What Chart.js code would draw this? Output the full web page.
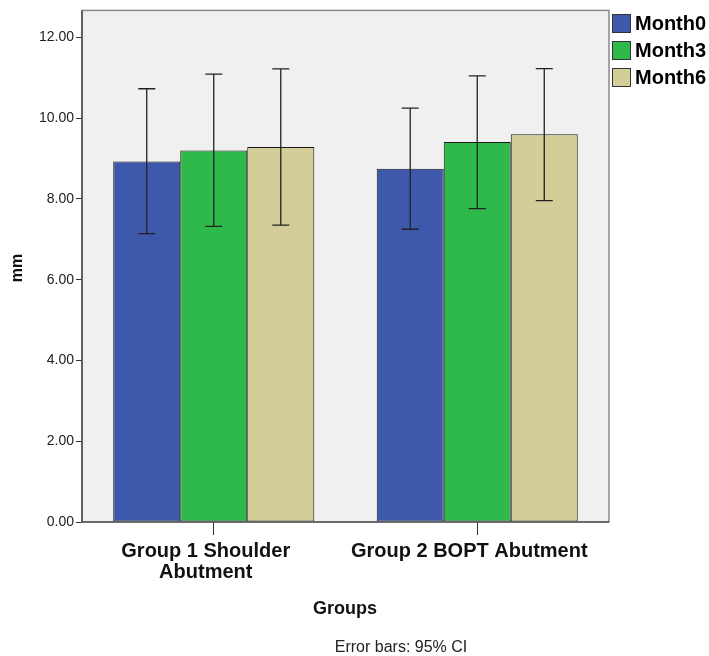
<!DOCTYPE html>
<html>
<head>
<meta charset="utf-8">
<script src="https://cdn.jsdelivr.net/npm/chart.js@4/dist/chart.umd.min.js"></script>
<style>
  html, body { margin: 0; padding: 0; background: #fff; }
  #wrap { width: 709px; height: 656px; }
</style>
</head>
<body>
<div id="wrap"><canvas id="myChart" width="709" height="656"></canvas></div>
<script>
var groups = [['Group 1 Shoulder', 'Abutment'], 'Group 2 BOPT Abutment'];
var seriesNames = ['Month0', 'Month3', 'Month6'];
var seriesColors = ['#3e58ac', '#2fb94a', '#d3ce98'];

// means
var month0 = [8.93, 8.75];
var month3 = [9.20, 9.41];
var month6 = [9.29, 9.60];

// 95% CI bounds
var month0Low = [7.14, 7.25];
var month0High = [10.73, 10.25];
var month3Low = [7.32, 7.76];
var month3High = [11.09, 11.05];
var month6Low = [7.35, 7.96];
var month6High = [11.22, 11.23];

var yTicks = [0, 2, 4, 6, 8, 10, 12];

var ci = [[month0Low, month0High], [month3Low, month3High], [month6Low, month6High]];
var values = [month0, month3, month6];

var framePlugin = {
  id: 'frame',
  beforeDraw: function (chart) {
    var c = chart.ctx, a = chart.chartArea;
    c.save();
    c.fillStyle = '#f0f0f0';
    c.fillRect(a.left, a.top, a.right - a.left, a.bottom - a.top);
    c.restore();
  },
  afterDatasetsDraw: function (chart) {
    var c = chart.ctx, a = chart.chartArea;
    var y = chart.scales.y;
    c.save();
    // error bars
    c.strokeStyle = '#222';
    c.lineWidth = 1.3;
    chart.data.datasets.forEach(function (ds, i) {
      var meta = chart.getDatasetMeta(i);
      meta.data.forEach(function (bar, j) {
        var x = bar.x;
        var lo = y.getPixelForValue(ci[i][0][j]);
        var hi = y.getPixelForValue(ci[i][1][j]);
        c.beginPath();
        c.moveTo(x, lo); c.lineTo(x, hi);
        c.moveTo(x - 8.5, lo); c.lineTo(x + 8.5, lo);
        c.moveTo(x - 8.5, hi); c.lineTo(x + 8.5, hi);
        c.stroke();
      });
    });
    // frame
    c.strokeStyle = '#8a8a8a';
    c.lineWidth = 1.5;
    c.strokeRect(a.left, a.top, a.right - a.left, a.bottom - a.top);
    c.strokeStyle = '#333';
    c.lineWidth = 1.2;
    c.beginPath();
    c.moveTo(a.left, a.top); c.lineTo(a.left, a.bottom); c.lineTo(a.right, a.bottom);
    c.stroke();

    // legend
    c.font = 'bold 20px Arial, "Liberation Sans"';
    c.textBaseline = 'middle';
    c.textAlign = 'left';
    seriesNames.forEach(function (n, i) {
      var by = 14 + i * 27;
      c.fillStyle = seriesColors[i];
      c.fillRect(612, by, 19, 19);
      c.strokeStyle = '#333';
      c.lineWidth = 1;
      c.strokeRect(612.5, by + 0.5, 18, 18);
      c.fillStyle = '#000';
      c.fillText(n, 635, by + 10);
    });

    // axis titles and note
    c.fillStyle = '#111';
    c.textAlign = 'center';
    c.font = 'bold 18px Arial, "Liberation Sans"';
    c.fillText('Groups', 345, 609);
    c.font = '16px Arial, "Liberation Sans"';
    c.fillStyle = '#222';
    c.fillText('Error bars: 95% CI', 401, 648);
    c.save();
    c.translate(18, 268);
    c.rotate(-Math.PI / 2);
    c.font = 'bold 16px Arial, "Liberation Sans"';
    c.fillStyle = '#111';
    c.fillText('mm', 0, 0);
    c.restore();
    c.restore();
  }
};

var ctx = document.getElementById('myChart').getContext('2d');
var myChart = new Chart(ctx, {
  type: 'bar',
  data: {
    labels: groups,
    datasets: seriesNames.map(function (n, i) {
      return {
        label: n,
        data: values[i],
        backgroundColor: seriesColors[i],
        borderColor: '#1a1a1a',
        borderWidth: 1,
        borderSkipped: false,
        barPercentage: 1,
        categoryPercentage: 0.763
      };
    })
  },
  options: {
    responsive: false,
    animation: false,
    layout: { padding: { left: 0, top: 10, right: 100, bottom: 0 } },
    plugins: { legend: { display: false }, tooltip: { enabled: false } },
    scales: {
      x: {
        grid: { display: true, drawOnChartArea: false, drawTicks: true, tickLength: 13, color: '#333', offset: false },
        border: { display: false },
        ticks: {
          color: '#111',
          padding: 6,
          labelOffset: -8,
          maxRotation: 0,
          font: { family: 'Arial, "Liberation Sans"', size: 20, weight: 'bold', lineHeight: 1.05 }
        },
        afterFit: function (s) { s.height = 134; }
      },
      y: {
        min: 0,
        max: 12.67,
        afterBuildTicks: function (s) { s.ticks = yTicks.map(function (v) { return { value: v }; }); },
        grid: { display: true, drawOnChartArea: false, drawTicks: true, tickLength: 6, color: '#333' },
        border: { display: false },
        ticks: {
          color: '#222',
          padding: 2,
          font: { family: 'Arial, "Liberation Sans"', size: 14 },
          callback: function (v) { return Number(v).toFixed(2); }
        },
        afterFit: function (s) { s.width = 82; }
      }
    }
  },
  plugins: [framePlugin]
});
</script>
</body>
</html>
